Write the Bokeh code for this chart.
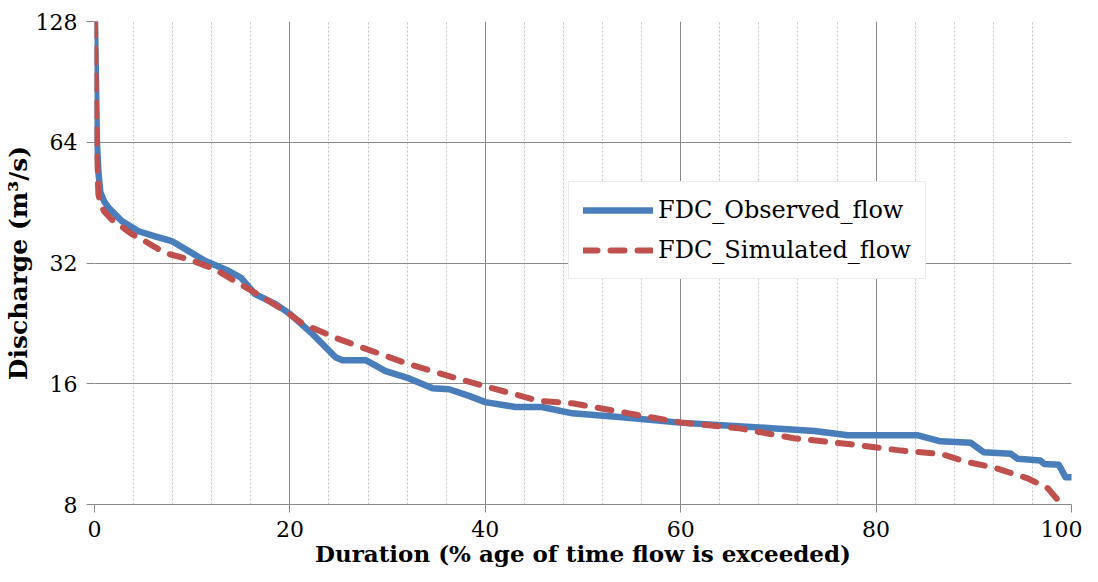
from bokeh.plotting import figure
from bokeh.models import FixedTicker, Legend, LegendItem, Range1d
from bokeh.embed import file_html
from bokeh.resources import INLINE

# ---- data ----
obs_x = [0.05, 0.15, 0.25, 0.4, 0.6, 1.0, 1.5, 2.8, 4.5, 6.2, 7.9, 9.6, 11.3, 13.7, 15.0,
         16.4, 18.5, 20.0, 22.3, 24.7, 25.4, 27.8, 29.8, 32.2, 34.6, 36.3, 38.4, 40.0, 43.1,
         45.8, 48.9, 54.0, 59.9, 64.2, 69.3, 73.7, 77.1, 84.3, 86.6, 89.7, 91.0, 93.8, 94.5,
         96.8, 97.2, 98.7, 99.4, 100]
obs_q = [128, 90, 64, 54, 48, 45.5, 43.8, 40.7, 38.4, 37.3, 36.3, 34.3, 32.4, 30.6, 29.4,
         26.8, 25.3, 23.9, 21.3, 18.6, 18.3, 18.3, 17.2, 16.5, 15.6, 15.5, 14.9, 14.4, 14.0,
         14.0, 13.5, 13.2, 12.8, 12.6, 12.4, 12.2, 11.9, 11.9, 11.5, 11.4, 10.8, 10.7, 10.4,
         10.3, 10.1, 10.05, 9.35, 9.35]

sim_x = [0.05, 0.2, 0.4, 0.6, 1.0, 1.7, 3.8, 4.8, 6.5, 7.6, 9.6, 12.3, 14.4, 17.0, 19.8,
         21.3, 24.7, 29.2, 32.2, 35.6, 40.7, 45.5, 48.9, 54.7, 60.1, 65.9, 71.6, 77.4, 82.6,
         86.6, 89.4, 92.0, 95.5, 97.6, 98.9, 99.5]
sim_q = [128, 64, 47.5, 44.9, 43, 41.2, 37.8, 36.7, 34.7, 33.7, 32.7, 30.9, 28.8, 26.5, 24.0,
         22.6, 20.8, 19.0, 17.9, 16.9, 15.6, 14.5, 14.3, 13.5, 12.8, 12.4, 11.7, 11.3, 10.9,
         10.7, 10.2, 9.9, 9.3, 8.77, 8.05, 7.8]

x_ticks = [0, 20, 40, 60, 80, 100]
x_minor = [4, 8, 12, 16, 24, 28, 32, 36, 44, 48, 52, 56, 64, 68, 72, 76, 84, 88, 92, 96]
y_ticks = [8, 16, 32, 64, 128]
y_labels = ["8", "16", "32", "64", "128"]

FONT = "DejaVu Serif"
GRID = "#8a8a8a"

p = figure(width=1082, height=574, y_axis_type="log",
           x_range=Range1d(0, 100), y_range=Range1d(8, 128),
           output_backend="svg", toolbar_location=None,
           min_border_left=91, min_border_right=11, min_border_top=21, min_border_bottom=70)
p.outline_line_color = None
p.background_fill_color = "white"

r_obs = p.line(obs_x, obs_q, line_color="#4a7ebb", line_width=6.5, line_join="round", line_cap="round")
r_sim = p.line(sim_x, sim_q, line_color="#c0504d", line_width=6, line_dash="14 13",
               line_cap="round", line_join="round")

# axes
p.xaxis.ticker = FixedTicker(ticks=x_ticks, minor_ticks=x_minor)
p.yaxis.ticker = FixedTicker(ticks=y_ticks)
p.yaxis.major_label_overrides = {t: l for t, l in zip(y_ticks, y_labels)}

for ax in (p.xaxis, p.yaxis):
    ax.major_label_text_font = FONT
    ax.major_label_text_font_size = "22px"
    ax.major_label_text_color = "black"
    ax.axis_label_text_font = FONT
    ax.axis_label_text_font_style = "bold"
    ax.axis_label_text_color = "black"
    ax.major_tick_line_color = GRID
    ax.major_tick_out = 8
    ax.major_tick_in = 0
    ax.minor_tick_line_color = None

p.xaxis.axis_label = "Duration (% age of time flow is exceeded)"
p.xaxis.axis_label_text_font_size = "23px"
p.xaxis.axis_line_color = GRID
p.xaxis.major_label_standoff = 8
p.xaxis.axis_label_standoff = 0

p.yaxis.axis_label = "Discharge (m\u00b3/s)"
p.yaxis.axis_label_text_font_size = "25px"
p.yaxis.axis_line_color = None
p.yaxis.major_label_standoff = 9
p.yaxis.axis_label_standoff = 0

p.xgrid.grid_line_color = GRID
p.xgrid.minor_grid_line_color = "#c4c4c4"
p.xgrid.minor_grid_line_dash = "2 2"
p.ygrid.grid_line_color = GRID

legend = Legend(items=[LegendItem(label="FDC_Observed_flow", renderers=[r_obs]),
                       LegendItem(label="FDC_Simulated_flow", renderers=[r_sim])],
                location=(474, 225))
legend.label_text_font = FONT
legend.label_text_font_size = "24px"
legend.label_text_color = "black"
legend.glyph_width = 70
legend.glyph_height = 28
legend.label_height = 28
legend.label_standoff = 5
legend.spacing = 12
legend.padding = 14
legend.margin = 0
legend.border_line_color = "#d9d9d9"
legend.background_fill_color = "white"
legend.background_fill_alpha = 1.0
p.add_layout(legend, "center")

open("out.html", "w").write(file_html(p, INLINE))
